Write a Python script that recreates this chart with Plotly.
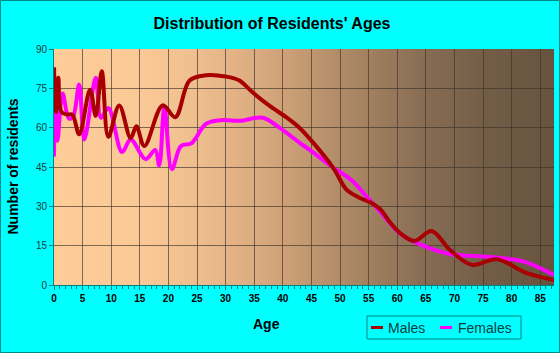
import base64
import struct
import zlib

import plotly.graph_objects as go

# ---------------- data ----------------
male_age = [0, 0.35, 0.75, 1.3, 2.3, 3.2, 4.4, 6.3, 7.3, 8.35, 9.5, 11.4, 13.4, 14.4,
            15.8, 19.0, 21.2, 23.7, 26.6, 30.0, 32.4, 34.7, 37.7, 40.6, 42.9, 45.3,
            48.8, 51.1, 53.2, 55.5, 57.0, 58.7, 60.5, 63.0, 66.0, 69.2, 73.0, 77.4,
            82.7, 87.4]
male_val = [83, 66, 79, 66, 65, 65, 57.5, 74.5, 64.5, 81.5, 56.5, 68.5, 56, 60.5,
            53, 68.5, 64, 78, 80, 79.5, 78, 73.5, 68.3, 64, 60, 54.3,
            44.7, 36.5, 33.5, 31.3, 29, 24, 19.8, 16.8, 20.6, 13.4, 7.7, 9.8,
            4.5, 1.9]

female_age = [0, 0.2, 0.6, 1.5, 2.6, 3.3, 4.4, 5.3, 7.3, 8.2, 9.5, 11.9, 13.4, 16.0,
              17.7, 18.4, 19.3, 20.6, 22.2, 24.0, 26.6, 29.5, 32.4, 36.5, 39.4,
              42.9, 44.7, 48.8, 52.0, 54.6, 57.0, 60.5, 64.0, 69.2, 75.6, 82.0, 87.4]
female_val = [49, 71, 55, 73, 63.5, 64, 76.5, 55.5, 79, 63.8, 67.5, 50.7, 55.5, 48,
              51.5, 45.6, 67.7, 44.2, 53, 54, 61.5, 62.9, 62.6, 63.8, 60,
              54.3, 51.5, 44.8, 40.0, 33.8, 28, 19.6, 15.5, 11.8, 10.8, 9, 3.8]

x_ticks = list(range(0, 90, 5))
y_ticks = list(range(0, 91, 15))

# ---------------- layout geometry ----------------
W, H = 560, 353
L, R, T, B = 54, 6, 49, 68
PW, PH = W - L - R, H - T - B
XMAX = 87.4


def px(xp):
    return (xp - L) / PW


def py(yp):
    return (H - B - yp) / PH


fig = go.Figure()
fig.add_trace(go.Scatter(x=female_age, y=female_val, mode="lines", name="Females",
                         line=dict(color="#FF00FF", width=4, shape="spline", smoothing=1.0),
                         showlegend=False))
fig.add_trace(go.Scatter(x=male_age, y=male_val, mode="lines", name="Males",
                         line=dict(color="#A80000", width=4, shape="spline", smoothing=1.0),
                         showlegend=False))

# background gradient image (horizontal)
anchors = [(0, (253, 204, 153)), (15, (250, 201, 150)), (25, (238, 190, 142)),
           (35, (220, 172, 129)), (45, (192, 150, 112)), (55, (162, 128, 96)),
           (65, (135, 108, 83)), (75, (116, 94, 72)), (XMAX, (102, 83, 62))]


def col(a):
    for (a0, c0), (a1, c1) in zip(anchors[:-1], anchors[1:]):
        if a0 <= a <= a1:
            t = (a - a0) / (a1 - a0)
            return tuple(round(c0[i] + (c1[i] - c0[i]) * t) for i in range(3))
    return anchors[-1][1]


def make_png(w, h):
    row = bytearray()
    for i in range(w):
        row += bytes(col(XMAX * (i + 0.5) / w))
    raw = b"".join(b"\x00" + bytes(row) for _ in range(h))

    def chunk(tag, data):
        c = struct.pack(">I", len(data)) + tag + data
        return c + struct.pack(">I", zlib.crc32(tag + data) & 0xFFFFFFFF)

    png = b"\x89PNG\r\n\x1a\n"
    png += chunk(b"IHDR", struct.pack(">IIBBBBB", w, h, 8, 2, 0, 0, 0))
    png += chunk(b"IDAT", zlib.compress(raw, 9))
    png += chunk(b"IEND", b"")
    return "data:image/png;base64," + base64.b64encode(png).decode()


bg_img = make_png(PW, 4)

shapes = []
# outer border
shapes.append(dict(type="rect", xref="paper", yref="paper",
                   x0=px(0.5), x1=px(W - 0.5), y0=py(H - 0.5), y1=py(0.5),
                   line=dict(color="#008B8B", width=1), fillcolor="rgba(0,0,0,0)", layer="above"))
# legend box and samples
shapes.append(dict(type="rect", xref="paper", yref="paper",
                   x0=px(367), x1=px(521), y0=py(339), y1=py(316),
                   line=dict(color="#008080", width=1), fillcolor="rgba(0,0,0,0)"))
shapes.append(dict(type="line", xref="paper", yref="paper", x0=px(371), x1=px(383),
                   y0=py(327.5), y1=py(327.5), line=dict(color="#A80000", width=3)))
shapes.append(dict(type="line", xref="paper", yref="paper", x0=px(440), x1=px(452),
                   y0=py(327.5), y1=py(327.5), line=dict(color="#FF00FF", width=3)))

annotations = [
    dict(text="Age", xref="paper", yref="paper", x=px(266), y=py(324), showarrow=False,
         font=dict(family="Liberation Sans, Arial", size=14, color="#000000", weight="bold"),
         xanchor="center", yanchor="middle"),
    dict(text="Number of residents", xref="paper", yref="paper", x=px(12), y=py(166.5),
         showarrow=False, textangle=-90,
         font=dict(family="Liberation Sans, Arial", size=14, color="#000000", weight="bold"),
         xanchor="center", yanchor="middle"),
    dict(text="Males", xref="paper", yref="paper", x=px(386), y=py(328), showarrow=False,
         font=dict(family="Liberation Sans, Arial", size=14, color="#0A3C3C"),
         xanchor="left", yanchor="middle"),
    dict(text="Females", xref="paper", yref="paper", x=px(456), y=py(328), showarrow=False,
         font=dict(family="Liberation Sans, Arial", size=14, color="#0A3C3C"),
         xanchor="left", yanchor="middle"),
]

fig.update_layout(
    width=W, height=H,
    margin=dict(l=L, r=R, t=T, b=B, pad=0),
    paper_bgcolor="#00FFFF", plot_bgcolor="rgba(0,0,0,0)",
    title=dict(text="Distribution of Residents' Ages", x=272 / W, xref="container",
               xanchor="center", y=1 - 23 / H, yref="container", yanchor="middle",
               font=dict(family="Liberation Sans, Arial", size=16, color="#000000", weight="bold")),
    images=[dict(source=bg_img, xref="x", yref="y", x=0, y=90, sizex=XMAX, sizey=90,
                 xanchor="left", yanchor="top", sizing="stretch", layer="below")],
    shapes=shapes, annotations=annotations,
    showlegend=False,
    xaxis=dict(range=[0, XMAX], tickvals=x_ticks, ticktext=[str(v) for v in x_ticks],
               showgrid=True, gridcolor="rgba(60,50,40,0.65)", gridwidth=1,
               showline=True, linecolor="#008080", linewidth=1,
               ticks="outside", ticklen=4, tickcolor="#008080",
               minor=dict(dtick=1, tick0=0, ticks="outside", ticklen=3, tickcolor="#008080",
                          showgrid=False),
               tickfont=dict(family="Liberation Sans, Arial", size=10, color="#000000", weight="bold"),
               zeroline=False, fixedrange=True),
    yaxis=dict(range=[0, 90], tickvals=y_ticks, ticktext=[str(v) for v in y_ticks],
               showgrid=True, gridcolor="rgba(60,50,40,0.65)", gridwidth=1,
               showline=True, linecolor="#008080", linewidth=1,
               ticks="outside", ticklen=4, tickcolor="#008080",
               tickfont=dict(family="Liberation Sans, Arial", size=10, color="#1A3A3A"),
               zeroline=False, fixedrange=True),
)

fig.write_html("out.html", config={"displayModeBar": False})
